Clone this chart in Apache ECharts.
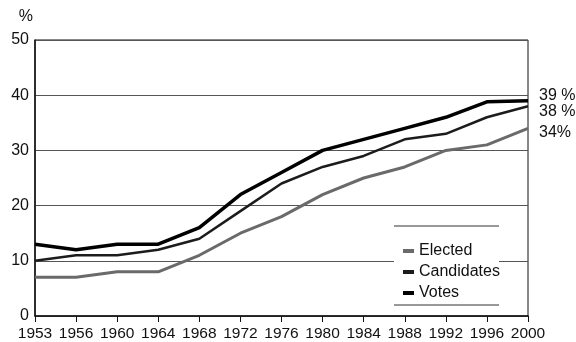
<!DOCTYPE html>
<html>
<head>
<meta charset="utf-8">
<script src="https://cdn.jsdelivr.net/npm/echarts@6/dist/echarts.min.js"></script>
<style>
  html, body { margin: 0; padding: 0; background: #fff; }
  #chart { width: 576px; height: 342px; }
</style>
</head>
<body>
<div id="chart"></div>
<script>
// Election years on the horizontal axis
const years = ['1953', '1956', '1960', '1964', '1968', '1972', '1976', '1980', '1984', '1988', '1992', '1996', '2000'];

// Share of women, in percent
const elected    = [7, 7, 8, 8, 11, 15, 18, 22, 25, 27, 30, 31, 34];
const candidates = [10, 11, 11, 12, 14, 19, 24, 27, 29, 32, 33, 36, 38];
const votes      = [13, 12, 13, 13, 16, 22, 26, 30, 32, 34, 36, 38.8, 39];

// Value-axis ticks
const yTicks = [0, 10, 20, 30, 40, 50];

// Suffix written after each series' final value
const endSuffix = { Elected: '%', Candidates: ' %', Votes: ' %' };

const FONT = '"Liberation Sans", Arial, sans-serif';

const chart = echarts.init(document.getElementById('chart'));

function lineSeries(name, data, color, width, dy) {
  return {
    name: name,
    type: 'line',
    data: data,
    symbol: 'none',
    lineStyle: { color: color, width: width, join: 'round' },
    itemStyle: { color: color },
    endLabel: {
      show: true,
      formatter: p => Math.round(p.value) + endSuffix[name],
      color: '#111',
      fontFamily: FONT,
      fontSize: 16,
      distance: 11,
      offset: [0, dy]
    },
    emphasis: { disabled: true }
  };
}

chart.setOption({
  animation: false,
  backgroundColor: '#fff',
  grid: {
    left: 35, right: 48, top: 40, bottom: 26,
    show: true, borderColor: '#111', borderWidth: 1
  },
  legend: {
    orient: 'vertical',
    left: 398, top: 238,
    itemWidth: 11, itemHeight: 4,
    itemGap: 5,
    icon: 'rect',
    z: 10,
    selectedMode: false,
    textStyle: { fontFamily: FONT, fontSize: 16, color: '#111' },
    data: ['Elected', 'Candidates', 'Votes']
  },
  graphic: [
    { type: 'rect', z: 5, shape: { x: 394, y: 226, width: 105, height: 79 }, style: { fill: '#fff' } },
    { type: 'line', z: 6, shape: { x1: 394, y1: 226, x2: 499, y2: 226 }, style: { stroke: '#333', lineWidth: 1 } },
    { type: 'line', z: 6, shape: { x1: 394, y1: 305, x2: 499, y2: 305 }, style: { stroke: '#333', lineWidth: 1 } }
  ],
  xAxis: {
    type: 'category',
    data: years,
    boundaryGap: false,
    axisLine: { lineStyle: { color: '#111', width: 1.5 } },
    axisTick: { show: true, length: 6, lineStyle: { color: '#111' } },
    axisLabel: { fontFamily: FONT, fontSize: 15.5, color: '#111', margin: 10, interval: 0 },
    splitLine: { show: false }
  },
  yAxis: {
    type: 'value',
    min: yTicks[0], max: yTicks[yTicks.length - 1], interval: 10,
    name: '%',
    nameLocation: 'end',
    nameGap: 15,
    nameTextStyle: { fontFamily: FONT, fontSize: 16, color: '#111', align: 'right', padding: [0, 2, 0, 0] },
    axisLine: { show: true, lineStyle: { color: '#111', width: 1.5 } },
    axisTick: { show: false },
    axisLabel: { fontFamily: FONT, fontSize: 16, color: '#111', margin: 6 },
    splitLine: { lineStyle: { color: '#555', width: 1 } }
  },
  series: [
    lineSeries('Elected', elected, '#6a6a6a', 3, 4),
    lineSeries('Candidates', candidates, '#1c1c1c', 2.5, 5),
    lineSeries('Votes', votes, '#000', 3.5, -5)
  ]
});
</script>
</body>
</html>
